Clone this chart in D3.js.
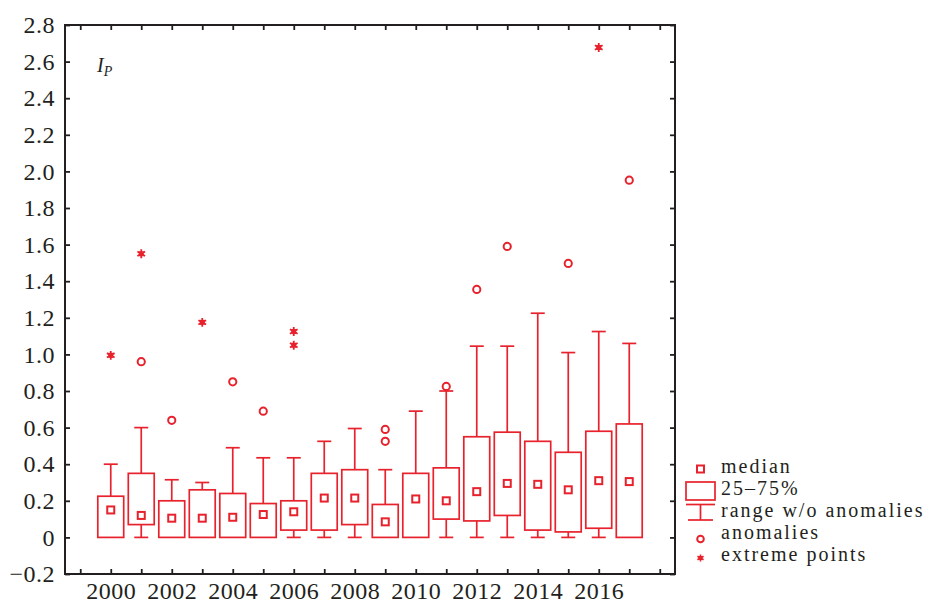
<!DOCTYPE html>
<html>
<head>
<meta charset="utf-8">
<script src="https://cdn.jsdelivr.net/npm/d3@7"></script>
<style>
  body { margin: 0; background: #fff; }
  svg { display: block; font-family: "Liberation Serif", "DejaVu Serif", serif; }
</style>
</head>
<body>
<div id="chart"></div>
<script>
////////////////////////////// data //////////////////////////////
const years = [2000, 2001, 2002, 2003, 2004, 2005, 2006, 2007, 2008,
  2009, 2010, 2011, 2012, 2013, 2014, 2015, 2016, 2017];
const q1 = [0, 0.07, 0, 0, 0, 0, 0.04, 0.04, 0.07,
  0, 0, 0.1, 0.09, 0.12, 0.04, 0.03, 0.05, 0];
const q3 = [0.225, 0.35, 0.2, 0.26, 0.24, 0.185, 0.2, 0.35, 0.37,
  0.18, 0.35, 0.38, 0.55, 0.575, 0.525, 0.465, 0.58, 0.62];
const medians = [0.15, 0.12, 0.105, 0.105, 0.11, 0.125, 0.14, 0.215, 0.215,
  0.085, 0.21, 0.2, 0.25, 0.295, 0.29, 0.26, 0.31, 0.305];
const whiskerHi = [0.4, 0.6, 0.315, 0.3, 0.49, 0.435, 0.435, 0.525, 0.595,
  0.37, 0.69, 0.8, 1.045, 1.045, 1.225, 1.01, 1.125, 1.06];
const whiskerLo = [0, 0, 0, 0, 0, 0, 0, 0, 0,
  0, 0, 0, 0, 0, 0, 0, 0, 0];
// anomalies (outliers) as [year, value]
const anomalies = [[2001, 0.96], [2002, 0.64], [2004, 0.85], [2005, 0.69],
  [2009, 0.59], [2009, 0.525], [2011, 0.825], [2012, 1.355], [2013, 1.59],
  [2015, 1.497], [2017, 1.952]];
// extreme points as [year, value]
const extremes = [[2000, 0.995], [2001, 1.55], [2003, 1.175], [2006, 1.125],
  [2006, 1.05], [2016, 2.677]];
const yTicks = [-0.2, 0, 0.2, 0.4, 0.6, 0.8, 1.0, 1.2, 1.4, 1.6, 1.8, 2.0,
  2.2, 2.4, 2.6, 2.8];
const xTicks = d3.range(1999, 2019);
const xLabels = [2000, 2002, 2004, 2006, 2008, 2010, 2012, 2014, 2016];
const legendItems = ["median", "25\u201375%", "range w/o anomalies", "anomalies", "extreme points"];

////////////////////////////// setup //////////////////////////////
const width = 931, height = 603;
const margin = { top: 25, right: 256, bottom: 29, left: 65 };
const red = "#e8222c";
const ink = "#231f20";

const svg = d3.select("#chart").append("svg")
  .attr("width", width)
  .attr("height", height);

const x = d3.scaleLinear()
  .domain([1998.5, 2018.5])
  .range([margin.left, width - margin.right]);
const y = d3.scaleLinear()
  .domain([-0.2, 2.8])
  .range([height - margin.bottom, margin.top]);

const step = x(1) - x(0);
const boxW = step * 0.85;
const capW = 14;

////////////////////////////// axes //////////////////////////////
const fmtY = (d) => Math.abs(d) < 1e-9 ? "0" : d3.format(".1f")(d);

svg.append("g")
  .attr("transform", `translate(${margin.left},0)`)
  .call(d3.axisLeft(y).tickValues(yTicks).tickFormat(fmtY)
    .tickSizeInner(-5).tickSizeOuter(0).tickPadding(10))
  .call(g => g.select(".domain").remove());

svg.append("g")
  .attr("transform", `translate(${width - margin.right},0)`)
  .call(d3.axisRight(y).tickValues(yTicks).tickFormat("")
    .tickSizeInner(-5).tickSizeOuter(0))
  .call(g => g.select(".domain").remove());

svg.append("g")
  .attr("transform", `translate(0,${height - margin.bottom})`)
  .call(d3.axisBottom(x).tickValues(xTicks)
    .tickFormat(d => xLabels.includes(d) ? d : "")
    .tickSizeInner(-5).tickSizeOuter(0).tickPadding(8))
  .call(g => g.select(".domain").remove());

svg.append("g")
  .attr("transform", `translate(0,${margin.top})`)
  .call(d3.axisTop(x).tickValues(xTicks).tickFormat("")
    .tickSizeInner(-5).tickSizeOuter(0))
  .call(g => g.select(".domain").remove());

svg.selectAll(".tick line").attr("stroke", ink).attr("stroke-width", 1.8);
svg.selectAll(".tick text")
  .attr("fill", ink)
  .style("font-family", "'Liberation Serif', serif")
  .style("font-size", "24px")
  .style("letter-spacing", "0.5px");

// frame
svg.append("rect")
  .attr("x", margin.left)
  .attr("y", margin.top)
  .attr("width", width - margin.right - margin.left)
  .attr("height", height - margin.bottom - margin.top)
  .attr("fill", "none")
  .attr("stroke", ink)
  .attr("stroke-width", 2);

// I_P label
const lab = svg.append("text")
  .attr("x", 97).attr("y", 72)
  .attr("fill", ink)
  .style("font-style", "italic")
  .style("font-size", "20px")
  .text("I");
lab.append("tspan")
  .attr("dy", 4)
  .style("font-size", "14px")
  .text("P");

////////////////////////////// boxes //////////////////////////////
const plot = svg.append("g")
  .attr("fill", "none")
  .attr("stroke", red)
  .attr("stroke-width", 1.7);

years.forEach((yr, i) => {
  const cx = x(yr);
  // upper whisker
  if (whiskerHi[i] > q3[i]) {
    plot.append("line")
      .attr("x1", cx).attr("x2", cx)
      .attr("y1", y(q3[i])).attr("y2", y(whiskerHi[i]));
    plot.append("line")
      .attr("x1", cx - capW / 2).attr("x2", cx + capW / 2)
      .attr("y1", y(whiskerHi[i])).attr("y2", y(whiskerHi[i]));
  }
  // lower whisker
  if (q1[i] > whiskerLo[i]) {
    plot.append("line")
      .attr("x1", cx).attr("x2", cx)
      .attr("y1", y(q1[i])).attr("y2", y(whiskerLo[i]));
    plot.append("line")
      .attr("x1", cx - capW / 2).attr("x2", cx + capW / 2)
      .attr("y1", y(whiskerLo[i])).attr("y2", y(whiskerLo[i]));
  }
  // box
  plot.append("rect")
    .attr("x", cx - boxW / 2)
    .attr("y", y(q3[i]))
    .attr("width", boxW)
    .attr("height", y(q1[i]) - y(q3[i]));
  // median
  plot.append("rect")
    .attr("x", cx - 3.5)
    .attr("y", y(medians[i]) - 3.5)
    .attr("width", 7).attr("height", 7)
    .attr("stroke-width", 2);
});

plot.selectAll(".anom")
  .data(anomalies)
  .enter()
  .append("circle")
  .attr("class", "anom")
  .attr("cx", d => x(d[0]))
  .attr("cy", d => y(d[1]))
  .attr("r", 3.6)
  .attr("stroke-width", 2);

const star = d3.symbol().type(d3.symbolAsterisk).size(55);
plot.selectAll(".extreme")
  .data(extremes)
  .enter()
  .append("g")
  .attr("class", "extreme")
  .attr("transform", d => `translate(${x(d[0])},${y(d[1])})`)
  .call(g => g.append("path").attr("d", star).attr("stroke-width", 1.8))
  .call(g => g.append("rect").attr("x", -2.5).attr("y", -2.5)
    .attr("width", 5).attr("height", 5).attr("fill", red).attr("stroke", "none"));

////////////////////////////// legend //////////////////////////////
const lg = svg.append("g");
const lx = 700.5;
const rowY = [467, 489, 511, 533, 555];

lg.selectAll("text")
  .data(legendItems)
  .enter()
  .append("text")
  .attr("x", 721)
  .attr("y", (d, i) => rowY[i])
  .attr("dy", "0.32em")
  .attr("fill", ink)
  .style("font-size", "20px")
  .style("letter-spacing", "2px")
  .text(d => d);

const lm = lg.append("g").attr("fill", "none").attr("stroke", red).attr("stroke-width", 1.7);
lm.append("rect").attr("x", lx - 3.5).attr("y", 469 - 3.5)
  .attr("width", 7).attr("height", 7).attr("stroke-width", 2);
lm.append("rect").attr("x", 686).attr("y", 482).attr("width", 29).attr("height", 18);
lm.append("line").attr("x1", 686).attr("x2", 715).attr("y1", 504.5).attr("y2", 504.5);
lm.append("line").attr("x1", lx).attr("x2", lx).attr("y1", 504.5).attr("y2", 520);
lm.append("line").attr("x1", 688).attr("x2", 713).attr("y1", 520).attr("y2", 520);
lm.append("circle").attr("cx", lx).attr("cy", 539).attr("r", 3.3).attr("stroke-width", 2);
lm.append("g").attr("transform", `translate(${lx},558)`)
  .call(g => g.append("path").attr("d", d3.symbol().type(d3.symbolAsterisk).size(35)).attr("stroke-width", 1.6))
  .call(g => g.append("rect").attr("x", -2).attr("y", -2)
    .attr("width", 4).attr("height", 4).attr("fill", red).attr("stroke", "none"));
</script>
</body>
</html>
